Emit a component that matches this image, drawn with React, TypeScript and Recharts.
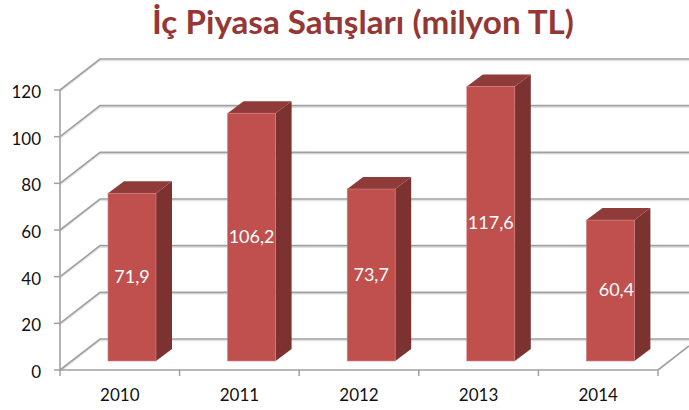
import { Bar, BarChart, CartesianGrid, LabelList, XAxis, YAxis } from "recharts";

const YEARS = ["2010", "2011", "2012", "2013", "2014"];
const SALES = [71.9, 106.2, 73.7, 117.6, 60.4];
const Y_TICKS = [0, 20, 40, 60, 80, 100, 120];

const rows = YEARS.map((year, i) => ({ year, sales: SALES[i] }));

const FONT = "Lato, sans-serif";
const GREY = "#a0a0a0";
const SOFT = "#e2e2e2";

// fake 3D: wall depth and bar depth, in px
const WALL_DX = 40;
const WALL_DY = 31;
const BAR_DX = 16;
const BAR_DY = 12;
const BAR_SHIFT_X = 12;
const BAR_SHIFT_Y = 9;

function WallLine(props: any) {
  const { x1, x2, y1 } = props;
  const bx = x1 + WALL_DX;
  const by = y1 - WALL_DY;
  return (
    <g fill="none">
      <polyline points={`${x1},${y1 + 1.5} ${bx},${by + 1.5} 720,${by + 1.5}`} stroke={SOFT} strokeWidth={1.5} />
      <polyline points={`${x1},${y1} ${bx},${by} 720,${by}`} stroke={GREY} strokeWidth={1.6} />
      {y1 > 360 && <line x1={x2} y1={y1} x2={x2 + 31} y2={y1 - 24} stroke={GREY} strokeWidth={1.6} />}
    </g>
  );
}

function Bar3D(props: any) {
  const { x, y, width, height } = props;
  const l = x + BAR_SHIFT_X;
  const r = l + width;
  const t = y - BAR_SHIFT_Y;
  const b = t + height;
  return (
    <g>
      <polygon points={`${r},${t} ${r + BAR_DX},${t - BAR_DY} ${r + BAR_DX},${b - BAR_DY} ${r},${b}`} fill="#7c3230" />
      <polygon points={`${l},${t} ${l + BAR_DX},${t - BAR_DY} ${r + BAR_DX},${t - BAR_DY} ${r},${t}`} fill="#8f3b39" />
      <rect x={l} y={t} width={width} height={height} fill="#c0504d" stroke="#d27f7c" strokeWidth={0.6} />
    </g>
  );
}

function BarValue(props: any) {
  const { x, y, width, height, value, index } = props;
  // the last label sits a little right of its bar's centre in the original
  const nudge = index === YEARS.length - 1 ? 6 : 0;
  return (
    <text
      x={x + BAR_SHIFT_X + width / 2 + nudge}
      y={y - BAR_SHIFT_Y + height / 2 + 1}
      textAnchor="middle"
      dominantBaseline="middle"
      fill="#ffffff"
      fontFamily={FONT}
      fontSize={18}
    >
      {String(value).replace(".", ",")}
    </text>
  );
}

function YearTick(props: any) {
  const { x, y, index, payload } = props;
  const band = 598 / YEARS.length;
  const left = x - band / 2;
  return (
    <g>
      <line x1={left} y1={370} x2={left} y2={376} stroke={GREY} strokeWidth={1.5} />
      {index === YEARS.length - 1 && <line x1={left + band} y1={370} x2={left + band} y2={376} stroke={GREY} strokeWidth={1.5} />}
      <text x={x} y={y + 23} textAnchor="middle" fill="#111111" fontFamily={FONT} fontSize={17}>
        {payload.value}
      </text>
    </g>
  );
}

export default function App() {
  return (
    <div style={{ position: "absolute", left: 0, top: 0, width: 689, height: 410, background: "#fff", overflow: "hidden" }}>
      <div
        style={{
          position: "absolute",
          left: 0,
          width: 726,
          top: -1,
          textAlign: "center",
          fontFamily: FONT,
          fontWeight: 700,
          fontSize: 33.2,
          lineHeight: "44px",
          color: "#953735",
          whiteSpace: "nowrap",
        }}
      >
        İç Piyasa Satışları (milyon TL)
      </div>
      <BarChart width={689} height={410} data={rows} margin={{ top: 90, right: 31, bottom: 0, left: 0 }} barSize={48} style={{ overflow: "hidden" }}>
        <CartesianGrid vertical={false} horizontal={(p: any) => <WallLine key={p.key} {...p} />} />
        <XAxis
          dataKey="year"
          height={40}
          tickLine={false}
          axisLine={{ stroke: GREY, strokeWidth: 1.6 }}
          tick={<YearTick />}
          interval={0}
        />
        <YAxis
          width={60}
          domain={[0, 120]}
          ticks={Y_TICKS}
          interval={0}
          tickSize={6}
          tickMargin={13}
          tickLine={{ stroke: GREY, strokeWidth: 1.5 }}
          axisLine={{ stroke: GREY, strokeWidth: 1.6 }}
          tick={{ fill: "#111111", fontFamily: FONT, fontSize: 17, dy: 2 }}
        />
        <Bar dataKey="sales" isAnimationActive={false} shape={<Bar3D />}>
          <LabelList dataKey="sales" content={<BarValue />} />
        </Bar>
      </BarChart>
    </div>
  );
}
